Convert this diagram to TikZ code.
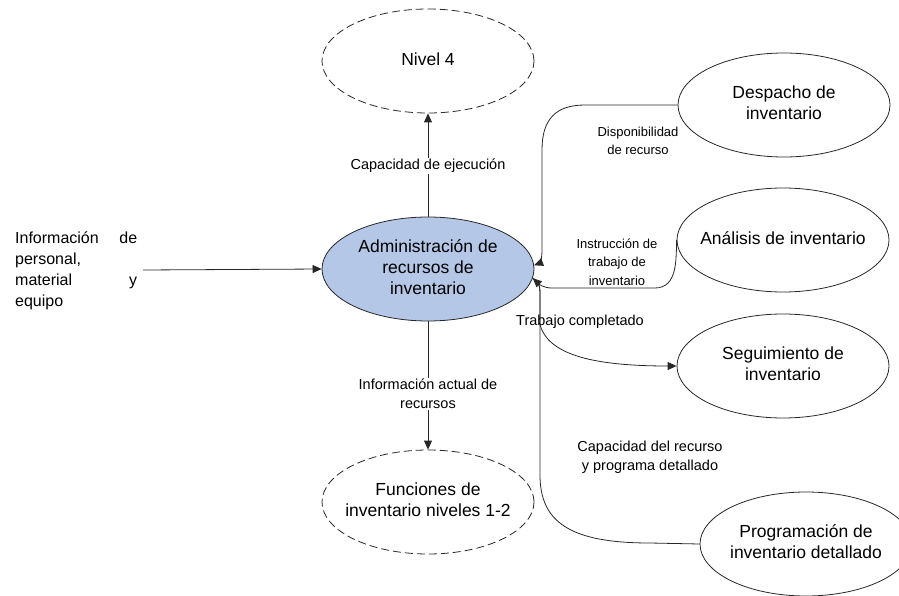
\documentclass[tikz,border=0pt]{standalone}
\usepackage{fontspec}
\setmainfont{Liberation Sans}
\usetikzlibrary{shapes.geometric,arrows.meta}
\definecolor{admfill}{RGB}{180,199,231}
\definecolor{inkline}{RGB}{40,40,40}
% centred lines in a box of zero width, so the ellipse size is set by its minimum size alone
\newcommand{\fixw}[1]{\makebox[0pt]{\begin{tabular}{@{}c@{}}#1\end{tabular}}}
\tikzset{
  proc/.style={ellipse, draw=inkline, line width=0.8pt, inner sep=0pt,
    minimum width=212pt, minimum height=104pt, align=center,
    font=\fontsize{17.5}{21}\selectfont},
  extproc/.style={proc, dashed, dash pattern=on 8pt off 4pt},
  link/.style={draw=inkline, line width=0.8pt},
  arr/.style={link, -{Triangle[length=9pt,width=8pt]}},
  lbl/.style={align=center, inner sep=1pt, font=\fontsize{14.5}{19}\selectfont},
  smalllbl/.style={align=center, inner sep=1pt, font=\fontsize{13}{18.5}\selectfont}
}
\begin{document}
\begin{tikzpicture}[x=1pt,y=-1pt]
\useasboundingbox (0,0) rectangle (899,596);

% processes
\node[proc, fill=admfill] (adm) at (428,269) {\fixw{Administración de\\recursos de\\inventario}};
\node[extproc] (niv) at (428,61) {\fixw{Nivel 4}};
\node[extproc] (fun) at (428,502) {\fixw{Funciones de\\inventario niveles 1-2}};
\node[proc] (desp) at (784,105) {\fixw{Despacho de\\inventario}};
\node[proc] (anal) at (783,240) {\fixw{Análisis de inventario}};
\node[proc] (seg) at (783,366) {\fixw{Seguimiento de\\inventario}};
\node[proc] (prog) at (806,544) {\fixw{Programación de\\inventario detallado}};

% external input text
\node[align=left, anchor=west, inner sep=0pt, font=\fontsize{16}{21}\selectfont] (inf) at (15,271)
  {\makebox[122pt][s]{Información\hfill de}\\personal,\\\makebox[122pt][s]{material\hfill y}\\equipo};
\coordinate (infend) at (143,270);

% vertical flows
\draw[arr] (adm.north) -- (niv.south);
\draw[arr] (adm.south) -- (fun.north);
\draw[arr] (infend) -- (adm.west);

\node[lbl, fill=white] (lcap) at (428,166) {Capacidad de ejecución};
\node[lbl, fill=white] (linf) at (428,394) {Información actual de\\recursos};

% flows on the right
\draw[arr] (desp.west) -- (585,105) .. controls (555,105) and (542,120) .. (542,150)
  -- (542,250) .. controls (542,258) and (540,263) .. (adm.2);
\draw[arr] (anal.west) .. controls (676,258) and (678,288) .. (655,288)
  -- (552,288) .. controls (543,288) and (539,284) .. (adm.-5);
\draw[arr] (adm.-5) .. controls (538,282) and (540,285) .. (540,292)
  -- (540,325) .. controls (548,352) and (585,366) .. (seg.west);
\draw[link] (prog.west) -- (650,543) .. controls (570,543) and (540,522) .. (540,475)
  -- (540,292) .. controls (540,285) and (538,282) .. (adm.-5);

\node[smalllbl] (ldisp) at (638,141) {Disponibilidad\\de recurso};
\node[smalllbl] (linst) at (617,262) {Instrucción de\\trabajo de\\inventario};
\node[lbl] (ltrab) at (580,322) {Trabajo completado};
\node[lbl] (lcapr) at (650,457) {Capacidad del recurso\\y programa detallado};
\end{tikzpicture}
\end{document}
